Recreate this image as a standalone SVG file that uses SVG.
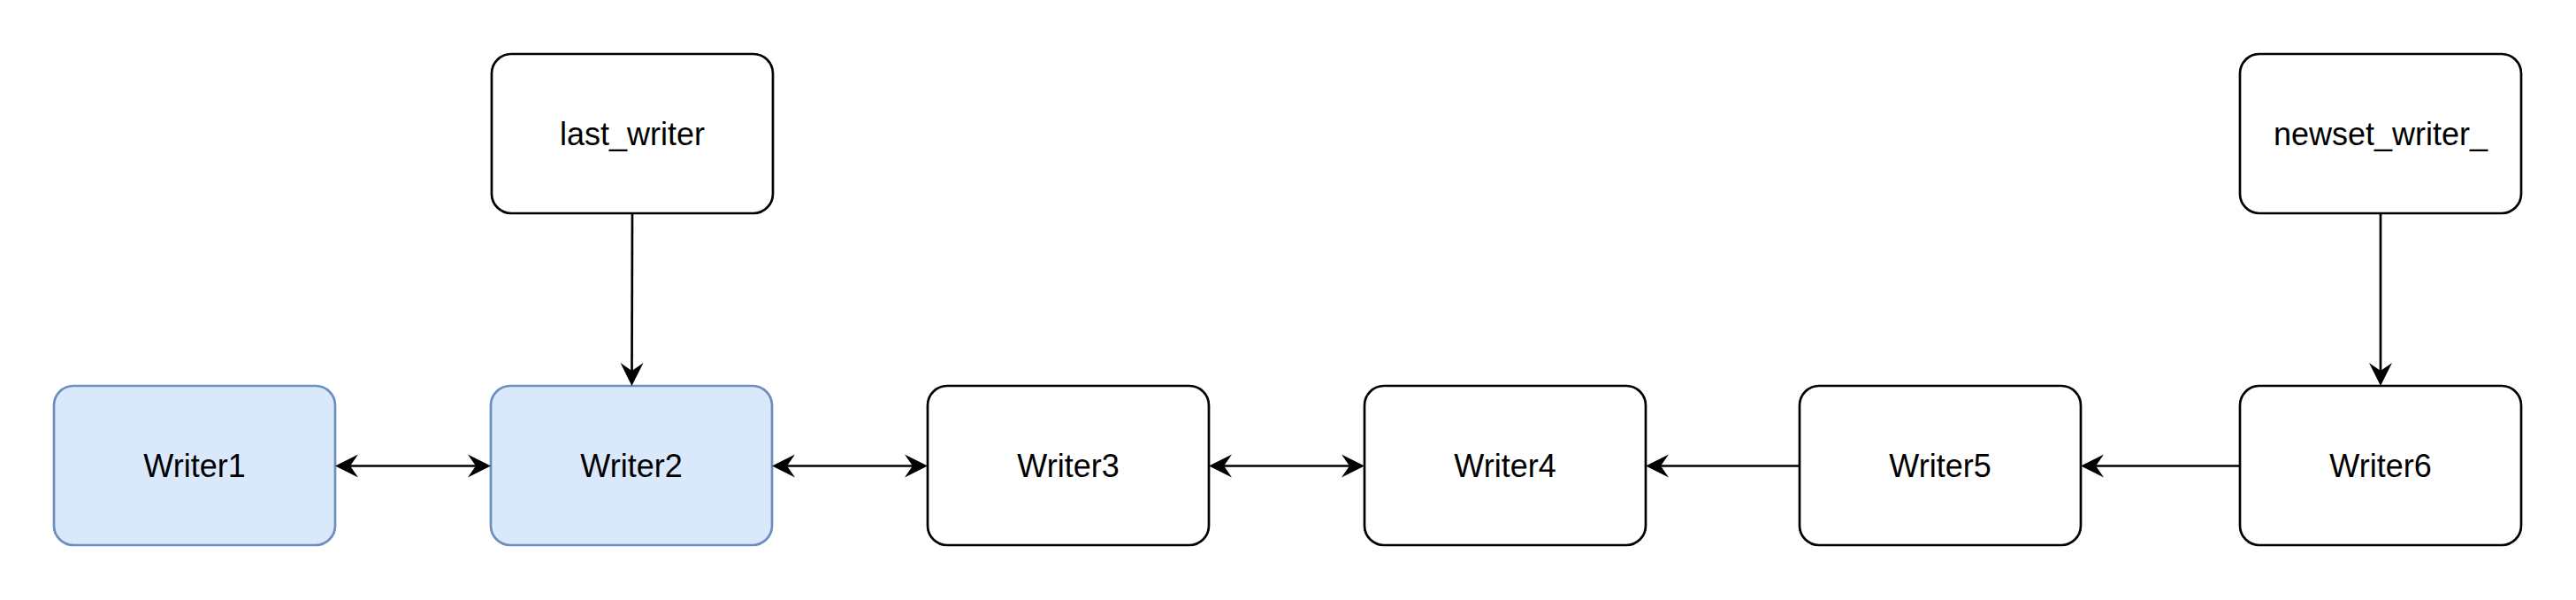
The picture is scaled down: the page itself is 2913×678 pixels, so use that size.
<svg xmlns="http://www.w3.org/2000/svg" width="2913" height="678" viewBox="0 0 2913 678">
<style>
.bg{fill:#ffffff}
.box{fill:#ffffff;stroke:#000000;stroke-width:2.7}
.blue{fill:#dae8fc;stroke:#6c8ebf;stroke-width:2.7}
.lbl{font-family:"Liberation Sans",Arial,sans-serif;font-size:36px;fill:#000000;text-anchor:middle}
.edge{fill:none;stroke:#000000;stroke-width:2.7}
</style>
<defs>
<marker id="arr" markerUnits="userSpaceOnUse" viewBox="-20 -15 32 30" markerWidth="32" markerHeight="30" refX="0" refY="0" orient="auto-start-reverse" overflow="visible">
<path d="M10,0 L-16,-13 L-7,0 L-16,13 Z" fill="#000000"/>
</marker>
</defs>
<rect class="bg" x="0" y="0" width="2913" height="678"/>
<g id="last_writer"><rect class="box" x="556" y="61" width="318" height="180" rx="22"/><text class="lbl" x="715" y="164">last_writer</text></g>
<g id="newset_writer"><rect class="box" x="2533" y="61" width="318" height="180" rx="22"/><text class="lbl" x="2692" y="164">newset_writer_</text></g>
<g id="writer1"><rect class="blue" x="61" y="436" width="318" height="180" rx="22"/><text class="lbl" x="220" y="539">Writer1</text></g>
<g id="writer2"><rect class="blue" x="555" y="436" width="318" height="180" rx="22"/><text class="lbl" x="714" y="539">Writer2</text></g>
<g id="writer3"><rect class="box" x="1049" y="436" width="318" height="180" rx="22"/><text class="lbl" x="1208" y="539">Writer3</text></g>
<g id="writer4"><rect class="box" x="1543" y="436" width="318" height="180" rx="22"/><text class="lbl" x="1702" y="539">Writer4</text></g>
<g id="writer5"><rect class="box" x="2035" y="436" width="318" height="180" rx="22"/><text class="lbl" x="2194" y="539">Writer5</text></g>
<g id="writer6"><rect class="box" x="2533" y="436" width="318" height="180" rx="22"/><text class="lbl" x="2692" y="539">Writer6</text></g>
<g id="connectors">
<path class="edge" d="M389,526.5 L545,526.5" marker-start="url(#arr)" marker-end="url(#arr)"/>
<path class="edge" d="M883,526.5 L1039,526.5" marker-start="url(#arr)" marker-end="url(#arr)"/>
<path class="edge" d="M1377,526.5 L1533,526.5" marker-start="url(#arr)" marker-end="url(#arr)"/>
<path class="edge" d="M2035,526.5 L1871,526.5" marker-end="url(#arr)"/>
<path class="edge" d="M2533,526.5 L2363,526.5" marker-end="url(#arr)"/>
<path class="edge" d="M715,241 L714.5,426" marker-end="url(#arr)"/>
<path class="edge" d="M2692,241 L2692,426" marker-end="url(#arr)"/>
</g>
</svg>
